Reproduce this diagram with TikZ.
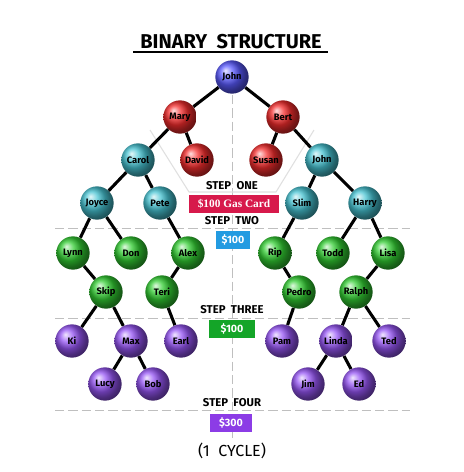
\documentclass[tikz,border=0pt]{standalone}
\usepackage{fontspec}
\setmainfont{Fira Sans}
\newfontfamily\payfont{Liberation Serif}
\usetikzlibrary{backgrounds}

\definecolor{rootblue}{RGB}{90,90,255}
\definecolor{ballred}{RGB}{245,45,45}
\definecolor{ballteal}{RGB}{70,195,210}
\definecolor{ballgreen}{RGB}{50,205,50}
\definecolor{ballviolet}{RGB}{150,85,245}
\definecolor{paycrimson}{RGB}{215,25,75}
\definecolor{payblue}{RGB}{35,155,225}
\definecolor{paygreen}{RGB}{20,165,40}
\definecolor{payviolet}{RGB}{140,60,230}

\tikzset{
  person/.style={circle, minimum size=25pt, inner sep=0pt, font=\fontsize{7}{8}\selectfont\bfseries},
  rootball/.style={person, ball color=rootblue},
  redball/.style={person, ball color=ballred},
  tealball/.style={person, ball color=ballteal},
  greenball/.style={person, ball color=ballgreen},
  violetball/.style={person, ball color=ballviolet},
  link/.style={line width=2.3pt, black},
  guide/.style={black!25, line width=0.7pt, dash pattern=on 7pt off 3pt},
  steplabel/.style={font=\fontsize{8.5}{9}\selectfont\bfseries, inner sep=1pt},
  payout/.style={text=white, inner sep=0pt, minimum height=13.5pt, font=\fontsize{8}{9}\selectfont\bfseries}
}

\begin{document}
\begin{tikzpicture}[x=0.75pt, y=-0.75pt]
  \useasboundingbox (0,0) rectangle (464,472);

  % Title
  \node[font=\fontsize{15}{16}\selectfont\bfseries] (title) at (231,42) {BINARY\ \ STRUCTURE};
  \draw[line width=0.8pt] (133,52) -- (328,52);

  % Define nodes
  \node[rootball] (john) at (232,77) {John};

  \node[redball] (mary) at (180,117) {Mary};
  \node[redball] (bert) at (283,117) {Bert};

  \node[tealball] (carol) at (138,160) {Carol};
  \node[redball] (david) at (197,160) {David};
  \node[redball] (susan) at (266,160) {Susan};
  \node[tealball] (johnb) at (322,160) {John};

  \node[tealball] (joyce) at (97,203) {Joyce};
  \node[tealball] (pete) at (160,203) {Pete};
  \node[tealball] (slim) at (302,203) {Slim};
  \node[tealball] (harry) at (365,203) {Harry};

  \node[greenball] (lynn) at (73,253) {Lynn};
  \node[greenball] (don) at (131,253) {Don};
  \node[greenball] (alex) at (188,253) {Alex};
  \node[greenball] (rip) at (275,253) {Rip};
  \node[greenball] (todd) at (333,253) {Todd};
  \node[greenball] (lisa) at (388,253) {Lisa};

  \node[greenball] (skip) at (106,292) {Skip};
  \node[greenball] (teri) at (162,292) {Teri};
  \node[greenball] (pedro) at (299,292) {Pedro};
  \node[greenball] (ralph) at (356,292) {Ralph};

  \node[violetball] (ki) at (72,341) {Ki};
  \node[violetball] (max) at (131,341) {Max};
  \node[violetball] (earl) at (181,341) {Earl};
  \node[violetball] (pam) at (282,341) {Pam};
  \node[violetball] (linda) at (336,341) {Linda};
  \node[violetball] (ted) at (389,341) {Ted};

  \node[violetball] (lucy) at (105,384) {Lucy};
  \node[violetball] (bob) at (153,384) {Bob};
  \node[violetball] (jim) at (308,384) {Jim};
  \node[violetball] (ed) at (359,384) {Ed};

  % Steps and payouts
  \node[steplabel] (stepone) at (232,186) {STEP\ \ ONE};
  \node[payout, fill=paycrimson, minimum width=68pt, font=\payfont\fontsize{8.5}{9}\selectfont\bfseries] (gascard) at (234,204) {\$100 Gas Card};
  \node[steplabel] (steptwo) at (232,221) {STEP\ \ TWO};
  \node[payout, fill=payblue, minimum width=26pt] (paytwo) at (233,240) {\$100};
  \node[steplabel] (stepthree) at (232,310) {STEP\ \ THREE};
  \node[payout, fill=paygreen, minimum width=34pt] (paythree) at (232,329) {\$100};
  \node[steplabel] (stepfour) at (232,403) {STEP\ \ FOUR};
  \node[payout, fill=payviolet, minimum width=31pt, minimum height=14pt] (payfour) at (231,423) {\$300};
  \node[font=\fontsize{12}{13}\selectfont] (cycle) at (232,451) {(1\ \ CYCLE)};

  % Connect the nodes
  \begin{pgfonlayer}{background}
    \fill[white] (0,0) rectangle (464,472);
    \draw[guide] (232,95) -- (232,440);
    \draw[guide] (55,228) -- (410,228);
    \draw[guide] (55,318) -- (410,318);
    \draw[guide] (55,410) -- (410,410);
    \draw[black!12, line width=0.8pt] (150,130) -- (189,192) -- (276,192) -- (314,130);

    \draw[link] (john) -- (mary);
    \draw[link] (john) -- (bert);
    \draw[link] (mary) -- (carol);
    \draw[link] (mary) -- (david);
    \draw[link] (bert) -- (susan);
    \draw[link] (bert) -- (johnb);
    \draw[link] (carol) -- (joyce);
    \draw[link] (carol) -- (pete);
    \draw[link] (johnb) -- (slim);
    \draw[link] (johnb) -- (harry);
    \draw[link] (joyce) -- (lynn);
    \draw[link] (joyce) -- (don);
    \draw[link] (pete) -- (alex);
    \draw[link] (slim) -- (rip);
    \draw[link] (harry) -- (todd);
    \draw[link] (harry) -- (lisa);
    \draw[link] (lynn) -- (skip);
    \draw[link] (alex) -- (teri);
    \draw[link] (rip) -- (pedro);
    \draw[link] (lisa) -- (ralph);
    \draw[link] (skip) -- (ki);
    \draw[link] (skip) -- (max);
    \draw[link] (teri) -- (earl);
    \draw[link] (pedro) -- (pam);
    \draw[link] (ralph) -- (linda);
    \draw[link] (ralph) -- (ted);
    \draw[link] (max) -- (lucy);
    \draw[link] (max) -- (bob);
    \draw[link] (linda) -- (jim);
    \draw[link] (linda) -- (ed);
  \end{pgfonlayer}

\end{tikzpicture}
\end{document}
